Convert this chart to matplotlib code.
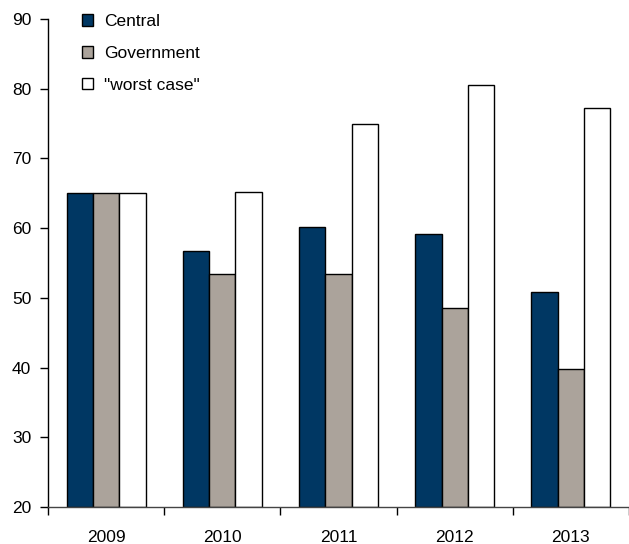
import numpy as np
import matplotlib
matplotlib.use('Agg')
import matplotlib.pyplot as plt

plt.rcParams['font.family'] = ['Liberation Sans', 'DejaVu Sans']

# Dane
years = ['2009', '2010', '2011', '2012', '2013']
central = [65.0, 56.7, 60.2, 59.1, 50.8]
government = [65.0, 53.4, 53.4, 48.6, 39.8]
worst_case = [65.0, 65.2, 75.0, 80.6, 77.3]

labels = ['Central', 'Government', '"worst case"']
colors = ['#003763', '#aba39b', '#ffffff']

fig = plt.figure(figsize=(6.29, 5.44), dpi=100)
ax = fig.add_axes([48 / 629, 1 - 507 / 544, 1 - 48 / 629, (507 - 19) / 544])

x = np.arange(len(years))
w = 0.227
for k, (vals, lab, col) in enumerate(zip([central, government, worst_case], labels, colors)):
    ax.bar(x + (k - 1) * w, np.array(vals) - 20, bottom=20, width=w, color=col,
           edgecolor='black', linewidth=1.0, label=lab)

ax.set_xlim(-0.5, 4.5)
ax.set_ylim(20, 90)
ax.set_yticks(range(20, 91, 10))
ax.set_xticks(x)
ax.set_xticklabels(years)
ax.set_xticks(np.arange(-0.5, 4.6, 1), minor=True)
ax.tick_params(axis='x', which='major', length=0, pad=16.5, labelsize=12.5)
ax.tick_params(axis='x', which='minor', length=6, direction='out', width=1)
ax.tick_params(axis='y', length=6, width=1, labelsize=12.5, pad=6)

for s in ['top', 'right']:
    ax.spines[s].set_visible(False)
ax.spines['left'].set_linewidth(1)
ax.spines['bottom'].set_linewidth(1)
ax.spines['bottom'].set_color('#444444')

leg = ax.legend(loc='upper left', bbox_to_anchor=(82 / 629, 1 - 14 / 544),
                bbox_transform=fig.transFigure, frameon=False, borderpad=0,
                borderaxespad=0, handlelength=0.65, handleheight=0.65,
                handletextpad=0.6, labelspacing=0.97, fontsize=12.5)
for h in leg.legend_handles:
    h.set_linewidth(1.0)

fig.savefig('out.png', dpi=100)
